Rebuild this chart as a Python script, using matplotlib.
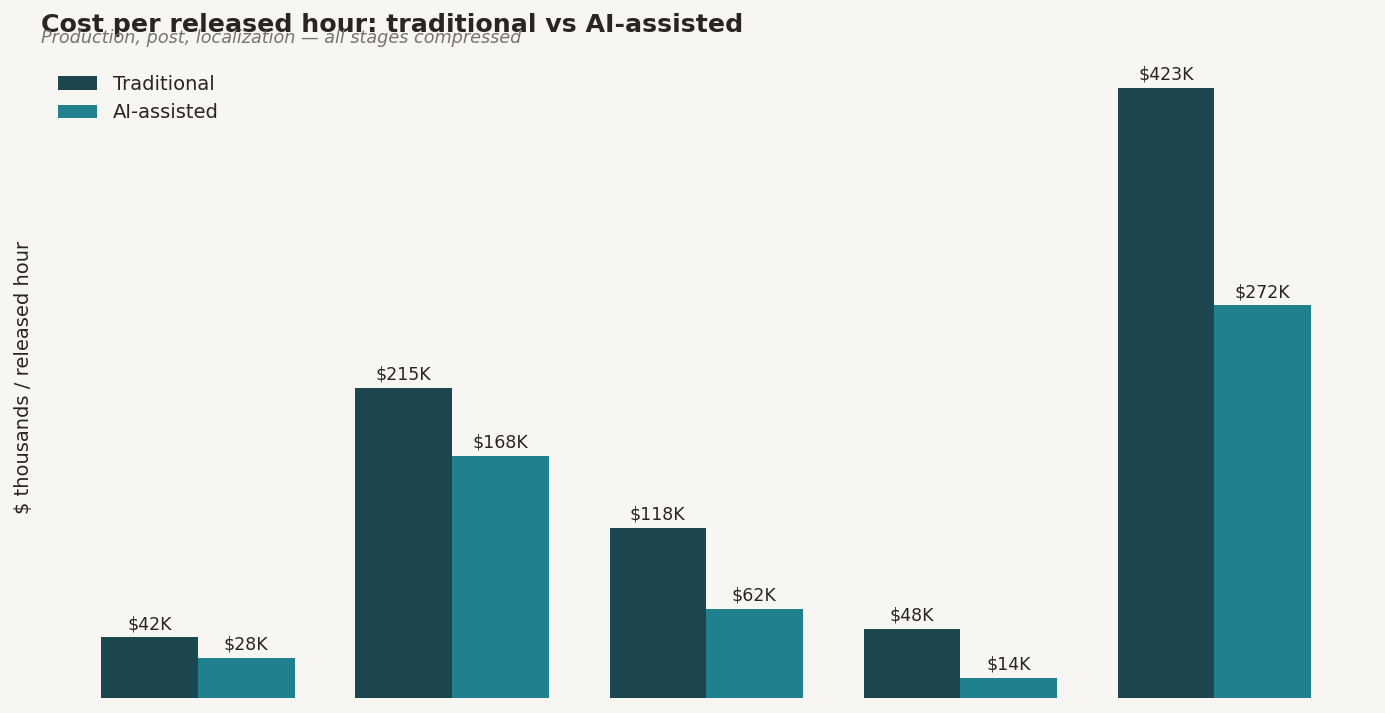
import matplotlib.pyplot as plt
import numpy as np

# data (thousands of $ per released hour)
stages = ['Stage 1', 'Stage 2', 'Stage 3', 'Stage 4', 'Stage 5']
traditional = [42, 215, 118, 48, 423]
ai_assisted = [28, 168, 62, 14, 272]

bg = '#f7f6f2'
txt = '#2a2520'
c_trad = '#1d474e'
c_ai = '#20808d'

fig = plt.figure(figsize=(13.85, 7.13), dpi=100, facecolor=bg)
ax = fig.add_axes([0.0296, 0.021, 0.9604, 0.899])
ax.set_facecolor(bg)

x = np.arange(len(stages))
w = 0.38
b1 = ax.bar(x - w/2, traditional, w, color=c_trad, label='Traditional')
b2 = ax.bar(x + w/2, ai_assisted, w, color=c_ai, label='AI-assisted')

for bars in (b1, b2):
    ax.bar_label(bars, labels=['$%dK' % v for v in bars.datavalues],
                 padding=3, fontsize=12.5, color=txt)

ax.set_xticks([])
ax.set_yticks([])
for s in ax.spines.values():
    s.set_visible(False)
ax.set_ylabel('$ thousands / released hour', fontsize=14, color=txt, labelpad=6)

leg = ax.legend(loc='upper left', frameon=False, fontsize=14,
                bbox_to_anchor=(0.0, 1.0), handlelength=2.0, handleheight=0.7)
for t in leg.get_texts():
    t.set_color(txt)

fig.text(0.0296, 0.965, 'Cost per released hour: traditional vs AI-assisted',
         fontsize=18.2, fontweight='bold', color=txt, va='center', ha='left')
fig.text(0.0296, 0.947, 'Production, post, localization \u2014 all stages compressed',
         fontsize=12.7, style='italic', color='#77736c', va='center', ha='left')

fig.savefig('out.png', dpi=100, facecolor=bg)
